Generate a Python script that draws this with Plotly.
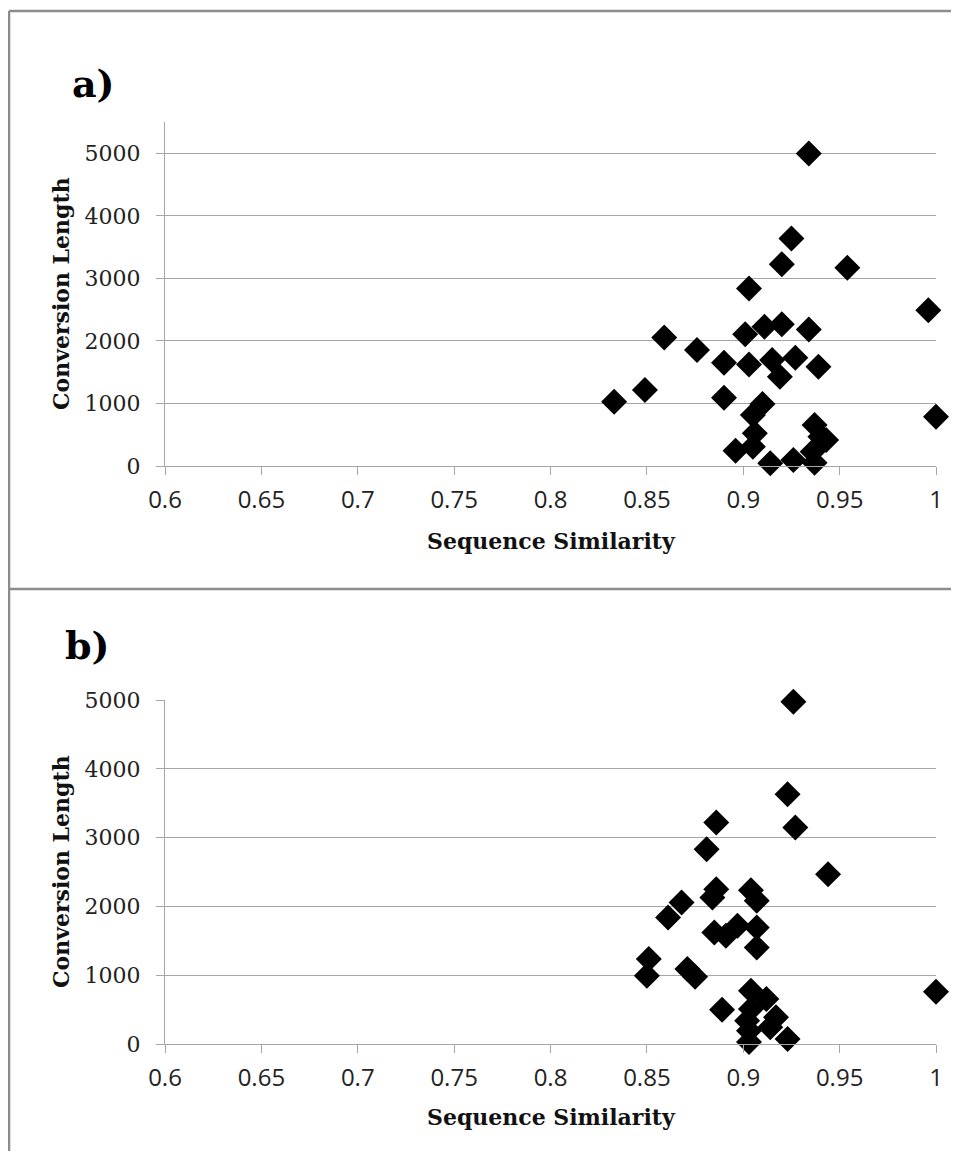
import plotly.graph_objects as go

# ---- data ----
sim_a = [0.934, 0.925, 0.920, 0.954, 0.903, 0.996, 0.859, 0.901, 0.911, 0.920,
         0.934, 0.876, 0.890, 0.903, 0.915, 0.927, 0.919, 0.939, 0.833, 0.849,
         0.890, 0.910, 0.905, 1.000, 0.937, 0.906, 0.943, 0.905, 0.896, 0.940,
         0.936, 0.937, 0.914, 0.926]
len_a = [4995, 3637, 3227, 3168, 2838, 2492, 2055, 2108, 2226, 2268,
         2183, 1853, 1650, 1624, 1693, 1730, 1427, 1587, 1028, 1214,
         1091, 990, 815, 788, 655, 522, 415, 309, 245, 468,
         229, 50, 43, 96]

sim_b = [0.926, 0.923, 0.886, 0.927, 0.881, 0.944, 0.886, 0.884, 0.904, 0.907,
         0.868, 0.861, 0.885, 0.891, 0.897, 0.907, 0.907, 0.851, 0.850, 0.871,
         0.875, 0.889, 1.000, 0.904, 0.912, 0.904, 0.917, 0.902, 0.914, 0.903,
         0.923, 0.903]
len_b = [4975, 3630, 3218, 3145, 2831, 2468, 2251, 2129, 2236, 2081,
         2056, 1838, 1620, 1572, 1718, 1693, 1403, 1234, 992, 1089,
         977, 498, 759, 774, 653, 508, 387, 338, 242, 193,
         72, 30]

x_ticks = [0.6, 0.65, 0.7, 0.75, 0.8, 0.85, 0.9, 0.95, 1]
x_tick_text = ["0.6", "0.65", "0.7", "0.75", "0.8", "0.85", "0.9", "0.95", "1"]
y_ticks = [0, 1000, 2000, 3000, 4000, 5000]
y_tick_text = ["0", "1000", "2000", "3000", "4000", "5000"]

# figure fits inside the window together with the page's 8px body margin
OFF = 8
W, H = 959 - 2 * OFF, 1159 - 2 * OFF
px = lambda v: (v - OFF) / W
py = lambda v: 1 - (v - OFF) / H

marker = dict(symbol="diamond", size=20, color="#000000", line=dict(width=0))

fig = go.Figure()
fig.add_trace(go.Scatter(x=sim_a, y=len_a, mode="markers", marker=marker, cliponaxis=False,
                         xaxis="x", yaxis="y", showlegend=False))
fig.add_trace(go.Scatter(x=sim_b, y=len_b, mode="markers", marker=marker, cliponaxis=False,
                         xaxis="x2", yaxis="y2", showlegend=False))

grid = "#a6a6a6"
xfont = dict(family="Open Sans", size=24, color="#222222")
yfont = dict(family="DejaVu Serif", size=22, color="#222222")

def xax(anchor):
    return dict(range=[0.6, 1.0], domain=[px(165), px(936)], anchor=anchor,
                tickvals=x_ticks, ticktext=x_tick_text, tickfont=xfont,
                showgrid=False, zeroline=False, showline=True, linecolor=grid,
                linewidth=1, ticks="outside", ticklen=8, tickcolor=grid,
                ticklabelstandoff=4, automargin=False, fixedrange=True)

def yax(anchor, rng, dom):
    return dict(range=rng, domain=dom, anchor=anchor,
                tickvals=y_ticks, ticktext=y_tick_text, tickfont=yfont,
                showgrid=True, gridcolor=grid, gridwidth=1, zeroline=False,
                showline=True, linecolor=grid, linewidth=1, ticks="outside",
                ticklen=8, tickcolor=grid, ticklabelstandoff=11,
                automargin=False, fixedrange=True)

title_font = dict(family="DejaVu Serif", size=22, color="#111111")
label_font = dict(family="DejaVu Serif", size=38, color="#000000")

annotations = [
    dict(text="<b>a)</b>", x=px(93), y=py(84), font=label_font),
    dict(text="<b>b)</b>", x=px(87), y=py(645), font=label_font),
    dict(text="<b>Conversion Length</b>", x=px(61), y=py(294), textangle=-90, font=title_font),
    dict(text="<b>Conversion Length</b>", x=px(61), y=py(872), textangle=-90, font=title_font),
    dict(text="<b>Sequence Similarity</b>", x=px(551), y=py(541), font=title_font),
    dict(text="<b>Sequence Similarity</b>", x=px(551), y=py(1117), font=title_font),
]
for a in annotations:
    a.update(xref="paper", yref="paper", showarrow=False, xanchor="center", yanchor="middle")

border = "#8c8c8c"
shapes = [
    dict(type="line", xref="paper", yref="paper", x0=px(9), x1=px(9), y0=py(11), y1=0,
         line=dict(color=border, width=2.5)),
    dict(type="line", xref="paper", yref="paper", x0=px(9), x1=1.0, y0=py(11), y1=py(11),
         line=dict(color=border, width=2.5)),
    dict(type="line", xref="paper", yref="paper", x0=px(9), x1=1.0, y0=py(589), y1=py(589),
         line=dict(color=border, width=2.5)),
]

fig.update_layout(
    width=W, height=H,
    margin=dict(l=0, r=0, t=0, b=0, pad=0, autoexpand=False),
    paper_bgcolor="white", plot_bgcolor="white",
    xaxis=xax("y"),
    yaxis=yax("x", [0, 5500], [py(466), py(122)]),
    xaxis2=xax("y2"),
    yaxis2=yax("x2", [0, 5000], [py(1044), py(700)]),
    annotations=annotations,
    shapes=shapes,
    showlegend=False,
)

fig.write_html("out.html")
